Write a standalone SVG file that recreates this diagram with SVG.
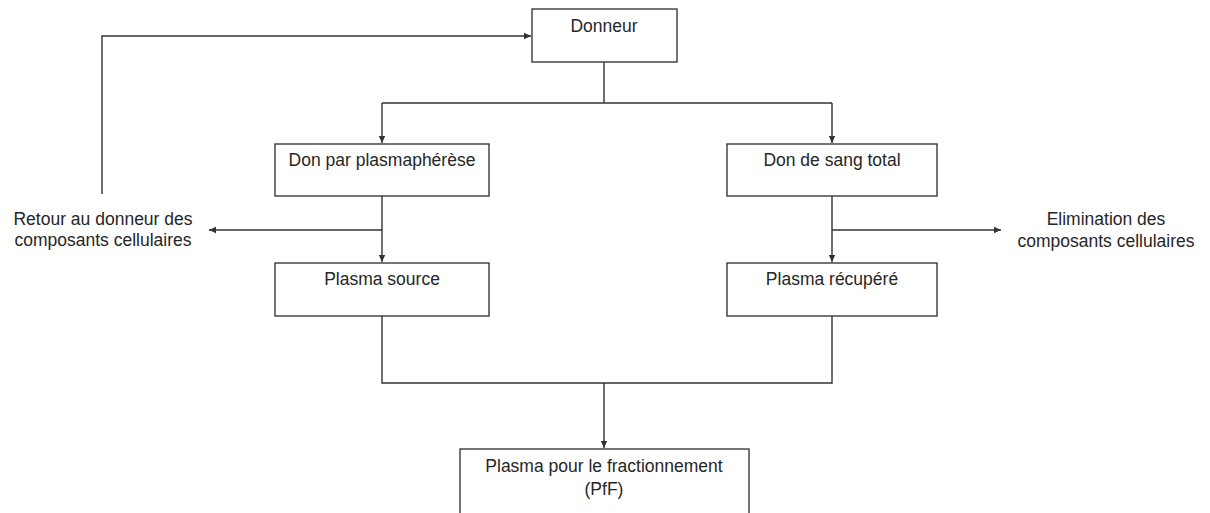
<svg xmlns="http://www.w3.org/2000/svg" width="1210" height="513" viewBox="0 0 1210 513">
<style>
.box{fill:#fff;stroke:#3a3a3a;stroke-width:1.4}
.ln{fill:none;stroke:#333;stroke-width:1.4}
text{font-family:"Liberation Sans",Arial,sans-serif;font-size:17.5px;fill:#262626;text-anchor:middle}
</style>
<defs>
<marker id="ah" markerWidth="8" markerHeight="8" refX="7" refY="4" orient="auto" markerUnits="userSpaceOnUse">
<path d="M0,0.8 L7,4 L0,7.2 Z" fill="#333"/>
</marker>
</defs>
<rect width="1210" height="513" fill="#fff"/>
<g id="connectors">
<path class="ln" d="M604,62 V103 M382,103 H832"/>
<path class="ln" d="M382,103 V143" marker-end="url(#ah)"/>
<path class="ln" d="M832,103 V143" marker-end="url(#ah)"/>
<path class="ln" d="M382,196 V262" marker-end="url(#ah)"/>
<path class="ln" d="M832,196 V262" marker-end="url(#ah)"/>
<path class="ln" d="M382,230 H209" marker-end="url(#ah)"/>
<path class="ln" d="M832,230 H1001" marker-end="url(#ah)"/>
<path class="ln" d="M102,194 V36 H531" marker-end="url(#ah)"/>
<path class="ln" d="M382,316 V383 H832 V316"/>
<path class="ln" d="M604,383 V448" marker-end="url(#ah)"/>
</g>
<g id="donneur">
<rect class="box" x="532" y="9" width="145" height="53"/>
<text x="604" y="32">Donneur</text>
</g>
<g id="plasmapherese">
<rect class="box" x="275" y="144" width="214" height="52"/>
<text x="382" y="166">Don par plasmaphérèse</text>
</g>
<g id="sang-total">
<rect class="box" x="727" y="144" width="210" height="52"/>
<text x="832" y="166">Don de sang total</text>
</g>
<g id="plasma-source">
<rect class="box" x="275" y="263" width="214" height="53"/>
<text x="382" y="285">Plasma source</text>
</g>
<g id="plasma-recupere">
<rect class="box" x="727" y="263" width="210" height="53"/>
<text x="832" y="285">Plasma récupéré</text>
</g>
<g id="pff">
<rect class="box" x="460" y="449" width="289" height="70"/>
<text x="604" y="472">Plasma pour le fractionnement</text>
<text x="604" y="495">(PfF)</text>
</g>
<g id="retour">
<text x="103" y="225">Retour au donneur des</text>
<text x="103" y="246">composants cellulaires</text>
</g>
<g id="elimination">
<text x="1106" y="225">Elimination des</text>
<text x="1106" y="247">composants cellulaires</text>
</g>
</svg>
